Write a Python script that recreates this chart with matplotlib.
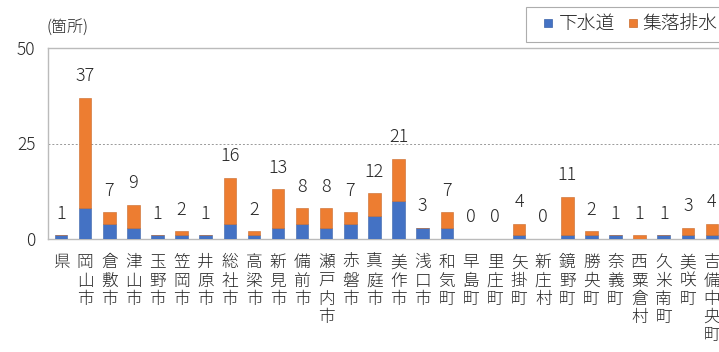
import matplotlib
matplotlib.use("Agg")
import matplotlib.pyplot as plt
import numpy as np
from matplotlib.lines import Line2D

plt.rcParams['font.family'] = ['Noto Sans CJK JP', 'DejaVu Sans']

categories = ["県", "岡山市", "倉敷市", "津山市", "玉野市", "笠岡市", "井原市", "総社市",
              "高梁市", "新見市", "備前市", "瀬戸内市", "赤磐市", "真庭市", "美作市", "浅口市",
              "和気町", "早島町", "里庄町", "矢掛町", "新庄村", "鏡野町", "勝央町", "奈義町",
              "西粟倉村", "久米南町", "美咲町", "吉備中央町"]
sewer = [1, 8, 4, 3, 1, 1, 1, 4, 1, 3, 4, 3, 4, 6, 10, 3, 3, 0, 0, 1, 0, 1, 1, 1, 0, 1, 1, 1]
rural = [0, 29, 3, 6, 0, 1, 0, 12, 1, 10, 4, 5, 3, 6, 11, 0, 4, 0, 0, 3, 0, 10, 1, 0, 1, 0, 2, 3]
series_names = ["下水道", "集落排水"]
yticks = [0, 25, 50]

blue = "#4472C4"
orange = "#ED7D31"
txt = "#262626"
fw = "light"

fig = plt.figure(figsize=(7.19, 3.52), dpi=100)
ax = fig.add_axes([48/719, 113/352, 677/719, 191/352])

x = np.arange(len(categories))
w = 0.52
ax.bar(x, sewer, w, color=blue, edgecolor="#3a62a8", linewidth=0.4, zorder=3)
ax.bar(x, rural, w, bottom=sewer, color=orange, edgecolor="#c96a2a", linewidth=0.4, zorder=3)

totals = [s + r for s, r in zip(sewer, rural)]
for xi, t in zip(x, totals):
    ax.annotate(str(t), (xi, t), xytext=(0, 9), textcoords="offset points",
                ha="center", va="bottom", fontsize=13, color=txt, fontweight=fw)

ax.set_xlim(-0.54, len(categories) - 0.46)
ax.set_ylim(0, 50)
ax.set_yticks(yticks)
ax.set_yticklabels([str(v) for v in yticks], fontsize=12.5, color=txt, fontweight=fw)
ax.tick_params(axis="y", length=0, pad=9)
ax.yaxis.grid(True, linestyle=(0, (2, 2)), color="#999999", linewidth=0.7, zorder=0)
ax.set_xticks(x)
ax.set_xticklabels(["\n".join(c) for c in categories], fontsize=12, color=txt,
                   linespacing=1.1, va="top", fontweight=fw)
ax.tick_params(axis="x", length=0, pad=11)
for s in ax.spines.values():
    s.set_color("#bbbbbb")
    s.set_linewidth(1.0)

fig.text(47/719, 1 - 27/352, "(箇所)", fontsize=11.5, color=txt, ha="left", va="center",
         fontweight=fw)

handles = [Line2D([], [], linestyle="none", marker="s", markersize=5.5,
                  markerfacecolor=blue, markeredgecolor="#3a62a8", markeredgewidth=0.5),
           Line2D([], [], linestyle="none", marker="s", markersize=5.5,
                  markerfacecolor=orange, markeredgecolor="#c96a2a", markeredgewidth=0.5)]
leg = fig.legend(handles, series_names, loc="upper left", bbox_to_anchor=(526/719, 1 - 7/352),
                 ncol=2, frameon=True, fancybox=False, handlelength=1.49,
                 handletextpad=-0.2, columnspacing=0.2, borderpad=0.45,
                 borderaxespad=0.0, prop={"size": 13.5, "weight": fw})
leg.get_frame().set_edgecolor("#999999")
leg.get_frame().set_linewidth(0.8)
for t in leg.get_texts():
    t.set_color(txt)

fig.savefig("out.png", dpi=100)
